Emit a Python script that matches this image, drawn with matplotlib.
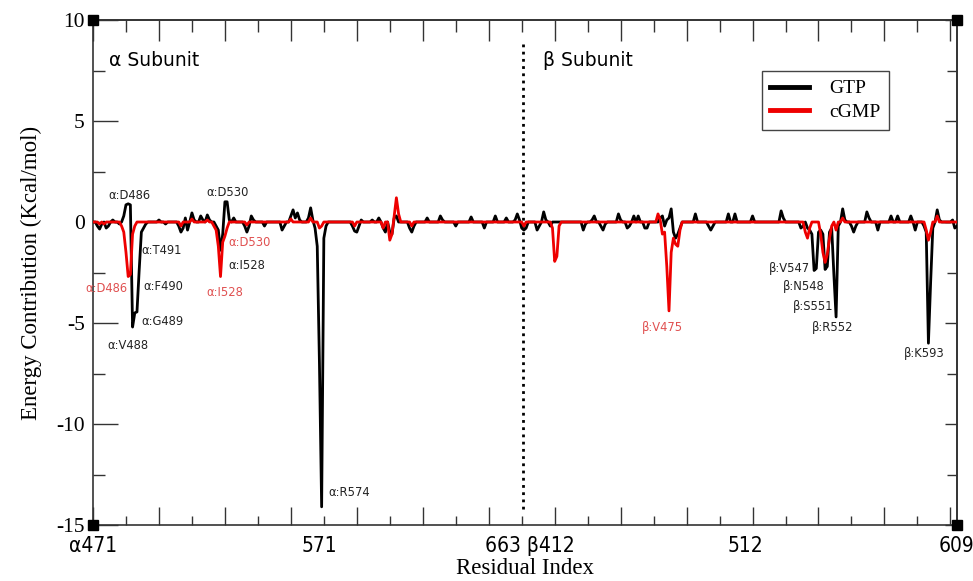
import numpy as np
import matplotlib
matplotlib.use("Agg")
import matplotlib.pyplot as plt
from matplotlib.ticker import MultipleLocator

plt.rcParams['axes.unicode_minus'] = False

# ---------------- data (position along residue axis, energy) ----------------
x_max = 393

gtp_pos = [2, 3, 4, 6, 7, 9, 12, 14, 15, 16, 17, 18, 19, 20, 21, 22, 23, 24, 30, 33,
           39, 40, 41, 42, 43, 45, 46, 49, 50, 52, 53, 56, 57, 58, 59, 60, 61, 62, 64,
           69, 70, 71, 72, 73, 78, 86, 87, 90, 91, 92, 93, 94, 98, 99, 100, 101, 102,
           103, 104, 105, 106,
           118, 119, 120, 121, 122, 127, 130, 132, 133, 135, 136, 137, 138, 144, 145,
           146, 152, 158, 159, 165, 172, 178, 183, 188, 192, 193, 194, 195, 196, 197,
           202, 203, 205, 206, 208, 223, 224, 227, 228, 231, 232, 233, 239, 240, 243,
           244, 246, 248, 251, 252, 258, 259, 260, 261, 262, 263, 264, 265, 266, 267,
           274, 280, 281, 282, 289, 292, 300, 313, 314, 322, 323, 325, 326, 327, 328,
           329, 330, 331, 332, 333, 334, 335, 336, 337, 338, 339, 341, 342, 345, 346,
           347, 352, 353, 357, 363, 366, 372, 374, 378, 379, 380, 381, 382, 384, 385,
           391, 392, 393]
gtp_val = [-0.2, -0.35, -0.1, -0.3, -0.2, 0.1, -0.1, 0.3, 0.85, 0.9, 0.85, -5.2, -4.5,
           -4.45, -2.4, -0.5, -0.3, -0.1, 0.1, -0.1,
           -0.2, -0.5, -0.3, 0.2, -0.4, 0.45, 0.1, 0.3, 0.1, 0.35, 0.1, -0.2, -0.4, -1.4,
           -0.6, 1.0, 1.0, 0.1, 0.2,
           -0.2, -0.5, -0.2, 0.3, 0.1, -0.2, -0.4, -0.2, 0.3, 0.6, 0.2, 0.45, 0.1, 0.2,
           0.7, 0.1, -0.3, -1.2, -7.0, -14.1, -0.8, -0.2,
           -0.2, -0.45, -0.5, -0.2, 0.1, 0.1, 0.2, -0.3, -0.5, -0.5, -0.6, 0.2, 0.3,
           -0.3, -0.5, -0.2, 0.2, 0.3, 0.1, -0.2, 0.25, -0.3, 0.3, 0.2, 0.1, 0.4, 0.1,
           -0.3, -0.4, -0.3,
           -0.4, -0.2, 0.5, 0.1, -0.2, -0.4, -0.1, 0.1, 0.3, -0.2, -0.4, -0.1, 0.4, 0.1,
           -0.3, -0.2, 0.3, 0.3, -0.3, -0.3, 0.2, 0.3, -0.2, 0.1, 0.2, 0.65, -0.5, -0.8,
           -0.6, -0.3,
           0.4, -0.2, -0.4, -0.2, 0.4, 0.4, 0.3, 0.55, 0.2, -0.3, -0.2, -0.3, -0.4, -0.6,
           -2.4, -2.3, -0.5, -0.4, -0.6, -2.35, -2.2, -0.5, -0.3, -2.6, -4.7, -0.2, 0.65,
           0.1, -0.2, -0.5, -0.2, 0.5, 0.2, -0.4, 0.3, 0.3, 0.3, -0.4, -0.2, -0.5, -6.0,
           -3.0, -0.3, 0.6, 0.1, 0.1, -0.3, -0.2]

cgmp_pos = [3, 5, 13, 14, 15, 16, 17, 18, 19, 40, 45, 52, 55, 56, 57, 58, 59, 60, 61,
            70, 90, 99, 103, 104, 119, 132, 135, 136, 137, 138, 139, 145, 196,
            209, 210, 211, 212, 257, 258, 259, 260, 261, 262, 263, 264, 265, 266, 267,
            324, 325, 326, 331, 332, 333, 334, 335, 336, 338, 341, 379, 380, 381, 384]
cgmp_val = [-0.1, -0.1, -0.2, -0.5, -1.5, -2.7, -2.6, -0.6, -0.2, -0.2, 0.15, 0.1,
            -0.2, -0.4, -1.2, -2.7, -1.0, -0.7, -0.3, -0.15, 0.15, 0.2, -0.3, -0.2,
            -0.2, -0.3, -0.9, -0.6, 0.3, 1.2, 0.4, -0.2, -0.2,
            -0.3, -1.95, -1.7, -0.2, 0.4, 0.1, -0.6, -0.5, -2.2, -4.4, -1.5, -0.8, -1.1,
            -1.2, -0.4,
            -0.5, -0.8, -0.3, -0.6, -1.5, -2.0, -1.6, -0.8, -0.2, -0.4, 0.2, -0.4, -0.9,
            -0.5, 0.3]

xtick_pos = [0, 103, 198.5, 296.6, 393]
xtick_labels = ["α471", "571", "663 β412", "512", "609"]

divider_x = 195.6

residue_labels = ["α:D486", "α:D486", "α:T491", "α:F490", "α:G489", "α:V488",
                  "α:D530", "α:D530", "α:I528", "α:I528", "α:R574", "β:V475",
                  "β:V547", "β:N548", "β:S551", "β:R552", "β:K593"]
label_series = ["GTP", "cGMP", "GTP", "GTP", "GTP", "GTP", "GTP", "cGMP", "GTP",
                "cGMP", "GTP", "cGMP", "GTP", "GTP", "GTP", "GTP", "GTP"]

# ---------------- build series ----------------
x = np.arange(0, x_max + 1)
gtp = np.zeros(x.size)
gtp[gtp_pos] = gtp_val
cgmp = np.zeros(x.size)
cgmp[cgmp_pos] = cgmp_val

# ---------------- figure ----------------
W, H = 973, 581
fig = plt.figure(figsize=(W / 100, H / 100), dpi=100)
ax = fig.add_axes([93 / W, 1 - 525 / H, 864 / W, 505 / H])

BLACK = '#000000'
RED = '#ee0000'
TXT_RED = '#e05050'
SERIF = 'Liberation Serif'

ax.plot(x, gtp, color=BLACK, lw=2.0, label='GTP', zorder=3)
ax.plot(x, cgmp, color=RED, lw=2.0, label='cGMP', zorder=4)

ax.set_xlim(0, x_max)
ax.set_ylim(-15, 10)

# divider
ax.plot([divider_x, divider_x], [-14.2, 8.8], color='black', lw=2.0,
        linestyle=(0, (1, 1.6)), zorder=2)

# spines
for s in ax.spines.values():
    s.set_color('#333333')
    s.set_linewidth(1.2)

# y ticks (left)
ax.yaxis.set_major_locator(MultipleLocator(5))
ax.yaxis.set_minor_locator(MultipleLocator(2.5))
ax.tick_params(axis='y', which='major', direction='in', length=18, width=1.0,
               color='#333333', right=False, pad=6)
ax.tick_params(axis='y', which='minor', direction='in', length=8.6, width=1.0,
               color='#333333', right=False)
for lab in ax.get_yticklabels():
    lab.set_fontfamily(SERIF)
    lab.set_fontsize(15.5)

# x ticks (bottom marks)
ax.xaxis.set_major_locator(MultipleLocator(30))
ax.xaxis.set_minor_locator(MultipleLocator(15))
ax.tick_params(axis='x', which='major', direction='in', length=13, width=1.0,
               color='#333333', labelbottom=False, top=False)
ax.tick_params(axis='x', which='minor', direction='in', length=6.5, width=1.0,
               color='#333333', top=False)

# top marks
sec_top = ax.secondary_xaxis('top')
sec_top.xaxis.set_major_locator(MultipleLocator(30))
sec_top.xaxis.set_minor_locator(MultipleLocator(15))
sec_top.tick_params(axis='x', which='major', direction='in', length=15, width=1.0,
                    color='#333333', labeltop=False)
sec_top.tick_params(axis='x', which='minor', direction='in', length=8.6, width=1.0,
                    color='#333333')
sec_top.spines['top'].set_color('#333333')
sec_top.spines['top'].set_linewidth(1.2)

# right marks
sec_r = ax.secondary_yaxis('right')
sec_r.yaxis.set_major_locator(MultipleLocator(5))
sec_r.yaxis.set_minor_locator(MultipleLocator(2.5))
sec_r.tick_params(axis='y', which='major', direction='in', length=8.6, width=1.0,
                  color='#333333', labelright=False)
sec_r.tick_params(axis='y', which='minor', direction='in', length=7.2, width=1.0,
                  color='#333333')
sec_r.spines['right'].set_color('#333333')
sec_r.spines['right'].set_linewidth(1.2)

# bottom labels
sec_lab = ax.secondary_xaxis('bottom')
sec_lab.set_xticks(xtick_pos)
sec_lab.set_xticklabels(xtick_labels)
sec_lab.tick_params(axis='x', length=0, pad=8)
sec_lab.spines['bottom'].set_visible(False)
for lab in sec_lab.get_xticklabels():
    lab.set_fontfamily('DejaVu Sans')
    lab.set_fontstretch('condensed')
    lab.set_fontsize(15)
sec_lab.set_xlabel('Residual Index', fontfamily=SERIF, fontsize=16.5, labelpad=1)

ax.set_ylabel('Energy Contribution (Kcal/mol)', fontfamily=SERIF, fontsize=16.5,
              labelpad=10)

# corner squares
ax.plot([0, 0, 1, 1], [0, 1, 0, 1], transform=ax.transAxes, ls='none', marker='s',
        ms=7.5, color='black', clip_on=False, zorder=6)

# subunit labels
ax.text(7.5, 8.0, 'α Subunit', fontfamily='DejaVu Sans', fontsize=13.5,
        va='center', ha='left')
ax.text(204.7, 8.0, 'β Subunit', fontfamily='DejaVu Sans', fontsize=13.5,
        va='center', ha='left')

# residue annotations: (x, y, ha)
label_xy = [(16.8, 1.29, 'center'), (5.9, -3.27, 'center'), (21.8, -1.39, 'left'),
            (22.7, -3.2, 'left'), (21.8, -4.95, 'left'), (15.9, -6.1, 'center'),
            (61.4, 1.44, 'center'), (61.4, -1.0, 'left'), (61.4, -2.13, 'left'),
            (60.0, -3.47, 'center'), (107.0, -13.4, 'left'), (259.0, -5.2, 'center'),
            (326.2, -2.28, 'right'), (333.0, -3.2, 'right'), (336.7, -4.16, 'right'),
            (336.2, -5.2, 'center'), (378.3, -6.5, 'center')]
for txt, ser, (lx, ly, ha) in zip(residue_labels, label_series, label_xy):
    ax.text(lx, ly, txt, fontfamily='DejaVu Sans', fontsize=8.3, ha=ha, va='center',
            color='#222222' if ser == 'GTP' else TXT_RED, clip_on=False, zorder=7)

# legend
leg = ax.legend(loc='upper left', bbox_to_anchor=(0.774, 0.899),
                prop={'family': SERIF, 'size': 14}, frameon=True, fancybox=False,
                edgecolor='#444444', framealpha=1, handlelength=2.0,
                handletextpad=1.0, labelspacing=0.3, borderpad=0.45,
                borderaxespad=0)
leg.get_frame().set_linewidth(1.0)
for ln in leg.get_lines():
    ln.set_linewidth(3.5)

fig.savefig('out.png', dpi=100)
